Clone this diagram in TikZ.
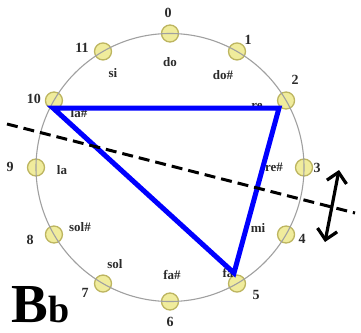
\documentclass[tikz,border=0pt]{standalone}
\usepackage{fontspec}
\setmainfont{Liberation Serif}
\usetikzlibrary{arrows.meta,calc}
\definecolor{nodefill}{HTML}{F0EC9C}
\definecolor{nodeedge}{HTML}{BDB560}
\definecolor{ringgray}{HTML}{A0A0A0}
\definecolor{labgray}{HTML}{2A2A2A}
\tikzset{
  pc/.style={circle,draw=nodeedge,fill=nodefill,line width=1.3pt,minimum size=17pt,inner sep=0pt},
  numlab/.style={font=\fontsize{14}{14}\selectfont\bfseries,text=labgray,inner sep=0pt},
  notelab/.style={font=\fontsize{13}{13}\selectfont\bfseries,text=labgray,inner sep=0pt},
  tri/.style={draw=blue,line width=5pt,line join=miter},
  axis/.style={draw=black,line width=3pt,dash pattern=on 11pt off 6pt},
  flip/.style={draw=black,line width=3.2pt,{Straight Barb[length=10pt,width=20pt,line width=3.2pt]}-{Straight Barb[length=10pt,width=20pt,line width=3.2pt]}}
}
\begin{document}
\begin{tikzpicture}[x=1pt,y=-1pt]
\useasboundingbox (0,0) rectangle (361,332);
\coordinate (C) at (170,167.5);
% pitch-class nodes
\foreach \k in {0,...,11}{
  \node[pc] (p\k) at ($(C)+({134*sin(30*\k)},{-134*cos(30*\k)})$) {};
}
\draw[ringgray,line width=1.1pt] (C) circle[radius=134];
% numbers
\node[numlab] (n0) at (168,13) {0};
\node[numlab] (n1) at (248,40) {1};
\node[numlab] (n2) at (295,80) {2};
\node[numlab] (n3) at (317,168) {3};
\node[numlab] (n4) at (302,239) {4};
\node[numlab] (n5) at (256,295) {5};
\node[numlab] (n6) at (170,322) {6};
\node[numlab] (n7) at (85,293) {7};
\node[numlab] (n8) at (30,240) {8};
\node[numlab] (n9) at (10,167) {9};
\node[numlab] (n10) at (34,99) {10};
\node[numlab] (n11) at (82,48) {11};
% note names
\node[notelab] (do) at (170,62) {do};
\node[notelab] (dos) at (223,75) {do\#};
\node[notelab] (re) at (257,106) {re};
\node[notelab] (res) at (274,167) {re\#};
\node[notelab] (mi) at (258,228) {mi};
\node[notelab] (fa) at (228,273) {fa};
\node[notelab] (fas) at (172,275) {fa\#};
\node[notelab] (sol) at (115,264) {sol};
\node[notelab] (sols) at (80,227) {sol\#};
\node[notelab] (la) at (62,170) {la};
\node[notelab] (las) at (79,113) {la\#};
\node[notelab] (si) at (113,73) {si};
% triangle
\coordinate (t10) at (53,108);
\coordinate (t2) at (279,108);
\coordinate (t5) at (234,273);
\draw[tri] (t10) -- (t2) -- (t5) -- cycle;
% reflection axis
\coordinate (a1) at (7,124);
\coordinate (a2) at (355,213);
\draw[axis] (a1) -- (a2);
% flip arrow
\coordinate (f1) at (339,170);
\coordinate (f2) at (325,242);
\draw[flip] (f1) -- (f2);
% title
\node[anchor=base west,inner sep=0pt,font=\fontsize{55}{55}\selectfont\bfseries] (B) at (11,322) {B};
\node[anchor=base west,inner sep=0pt,font=\fontsize{38}{38}\selectfont\bfseries] (b) at (B.base east) {b};
\end{tikzpicture}
\end{document}
